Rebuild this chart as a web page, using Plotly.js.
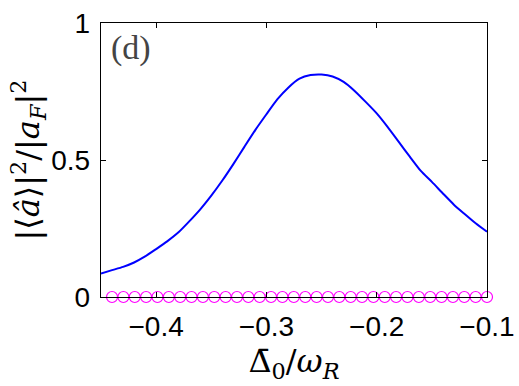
<!DOCTYPE html>
<html>
<head>
<meta charset="utf-8">
<script src="https://cdn.plot.ly/plotly-3.0.1.min.js"></script>
<style>html,body{margin:0;padding:0;background:#fff;}#chart{width:519px;height:386px;}</style>
</head>
<body>
<div id="chart"></div>
<script>
// Blue curve: detuning vs normalized intensity
const detuning = [-0.45,-0.44,-0.43,-0.42,-0.41,-0.40,-0.39,-0.38,-0.37,-0.36,-0.35,-0.34,-0.33,-0.32,-0.31,-0.30,-0.29,-0.28,-0.27,-0.26,-0.25,-0.24,-0.23,-0.22,-0.21,-0.20,-0.19,-0.18,-0.17,-0.16,-0.15,-0.14,-0.13,-0.12,-0.11,-0.10];
const intensity = [0.086,0.098,0.110,0.126,0.148,0.175,0.203,0.235,0.276,0.320,0.370,0.425,0.485,0.548,0.610,0.667,0.722,0.765,0.797,0.810,0.812,0.805,0.785,0.752,0.712,0.670,0.620,0.566,0.512,0.460,0.420,0.378,0.337,0.302,0.268,0.238];
// Magenta circles
const circleX = [-0.4400,-0.4297,-0.4194,-0.4091,-0.3988,-0.3885,-0.3782,-0.3679,-0.3576,-0.3473,-0.3370,-0.3267,-0.3164,-0.3061,-0.2958,-0.2855,-0.2752,-0.2648,-0.2545,-0.2442,-0.2339,-0.2236,-0.2133,-0.2030,-0.1927,-0.1824,-0.1721,-0.1618,-0.1515,-0.1412,-0.1309,-0.1206,-0.1103,-0.1000];
const circleY = [0,0,0,0,0,0,0,0,0,0,0,0,0,0,0,0,0,0,0,0,0,0,0,0,0,0,0,0,0,0,0,0,0,0];
const xTicks = [-0.4,-0.3,-0.2,-0.1];
const yTicks = [0,0.5,1];

const traces = [
  {x: detuning, y: intensity, type:'scatter', mode:'lines', line:{color:'#0000ff', width:2, shape:'spline', smoothing:0.6}, hoverinfo:'skip'},
  {x: circleX, y: circleY, type:'scatter', mode:'markers', cliponaxis:false,
   marker:{symbol:'circle-open', size:11, color:'#ff00ff', line:{width:1.2, color:'#ff00ff'}}, hoverinfo:'skip'}
];

const tickFont = {family:'Liberation Sans, Arial, sans-serif', size:28, color:'#000'};
const titleFont = {family:'DejaVu Serif', size:32, color:'#000'};
const layout = {
  width:519, height:386,
  margin:{l:101, r:32, t:23, b:89},
  paper_bgcolor:'#fff', plot_bgcolor:'#fff',
  showlegend:false,
  xaxis:{range:[-0.45,-0.1], tickvals:xTicks, ticktext:xTicks.map(v=>'\u2212'+Math.abs(v).toFixed(1)),
    ticks:'inside', ticklen:5, tickcolor:'#000', tickwidth:1, mirror:'ticks', showline:true, linecolor:'#000', linewidth:1.3,
    showgrid:false, zeroline:false, tickfont:tickFont, ticklabelstandoff:4, automargin:false,
    title:{text:'\u0394\u0304<sub>0</sub>/<i>\u03c9</i><sub><i>R</i></sub>', font:titleFont, standoff:0}},
  yaxis:{range:[0,1], tickvals:yTicks, ticktext:['0','0.5','1'],
    ticks:'inside', ticklen:5, tickcolor:'#000', tickwidth:1, mirror:'ticks', showline:true, linecolor:'#000', linewidth:1.3,
    showgrid:false, zeroline:false, tickfont:tickFont, ticklabelstandoff:4, automargin:false,
    title:{text:'|\u27e8<i>\u00e2</i>\u27e9|<sup>2</sup>/|<i>a</i><sub><i>F</i></sub>|<sup>2</sup>', font:titleFont, standoff:0}},
  annotations:[{text:'(d)', xref:'paper', yref:'paper', x:0.022, y:0.985, xanchor:'left', yanchor:'top', showarrow:false,
    font:{family:'Liberation Serif, DejaVu Serif, serif', size:34, color:'#444'}}]
};
Plotly.newPlot('chart', traces, layout, {displayModeBar:false, staticPlot:true});
</script>
</body>
</html>
